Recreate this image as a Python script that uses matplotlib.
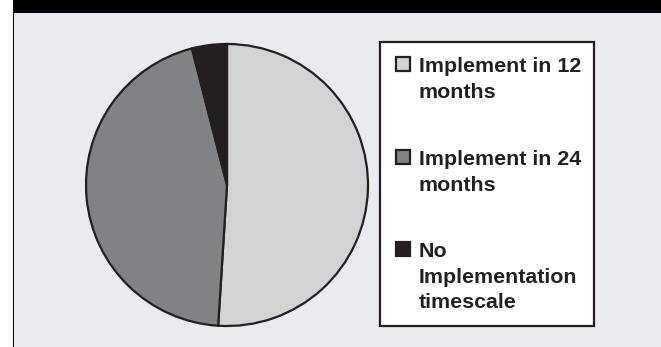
import matplotlib
matplotlib.use("Agg")
import matplotlib.pyplot as plt
from matplotlib.patches import Rectangle

# ── DATA ──────────────────────────────────────────────────────────────────────
labels = ["Implement in 12\nmonths", "Implement in 24\nmonths",
          "No\nImplementation\ntimescale"]
shares = [51, 45, 4]
colors = ["#D1D3D4", "#808285", "#231F20"]

EDGE = "#231F20"
BG = "#EAEBF1"
W, H = 661, 347

plt.rcParams.update({
    "font.family": ["Liberation Sans", "DejaVu Sans"],
    "font.weight": "bold",
})

fig = plt.figure(figsize=(W / 100, H / 100), dpi=100, facecolor="white")

def px(x, y, w, h):
    # pixel box (top-left origin) -> figure fraction
    return [x / W, 1 - (y + h) / H, w / W, h / H]

# frame: grey panel, black top bar, left rule
fig.patches.append(Rectangle((13 / W, 0), 1, 1 - 13 / H, transform=fig.transFigure,
                             facecolor=BG, edgecolor="none", zorder=-3))
fig.patches.append(Rectangle((13 / W, 1 - 13 / H), 1, 13 / H, transform=fig.transFigure,
                             facecolor="black", edgecolor="none", zorder=-2))
fig.patches.append(Rectangle((12.5 / W, 0), 1.6 / W, 1, transform=fig.transFigure,
                             facecolor="black", edgecolor="none", zorder=-2))

# ── PIE ───────────────────────────────────────────────────────────────────────
cx, cy, r = 227, 185, 141
pad = 4
ax = fig.add_axes(px(cx - r - pad, cy - r - pad, 2 * (r + pad), 2 * (r + pad)))
ax.set_zorder(5)
ax.pie(shares, colors=colors, startangle=90, counterclock=False,
       wedgeprops=dict(edgecolor=EDGE, linewidth=1.6))
lim = (r + pad) / r
ax.set_xlim(-lim, lim)
ax.set_ylim(-lim, lim)
ax.set_aspect("auto")
ax.axis("off")

# ── LEGEND ────────────────────────────────────────────────────────────────────
fig.patches.append(Rectangle(px(380, 42, 214, 284)[:2], 214 / W, 284 / H,
                             transform=fig.transFigure, facecolor="white",
                             edgecolor=EDGE, linewidth=1.6, zorder=2))
tops = [57, 150, 242]
for lab, col, t in zip(labels, colors, tops):
    box = px(396, t, 14, 14)
    fig.patches.append(Rectangle(box[:2], box[2], box[3], transform=fig.transFigure,
                                 facecolor=col, edgecolor=EDGE, linewidth=1.6, zorder=3))
    fig.text(419 / W, 1 - t / H, lab, fontsize=15.4, fontweight="bold",
             color=EDGE, va="top", ha="left", linespacing=1.45, zorder=4)

fig.savefig("out.png", dpi=100, facecolor="white")
